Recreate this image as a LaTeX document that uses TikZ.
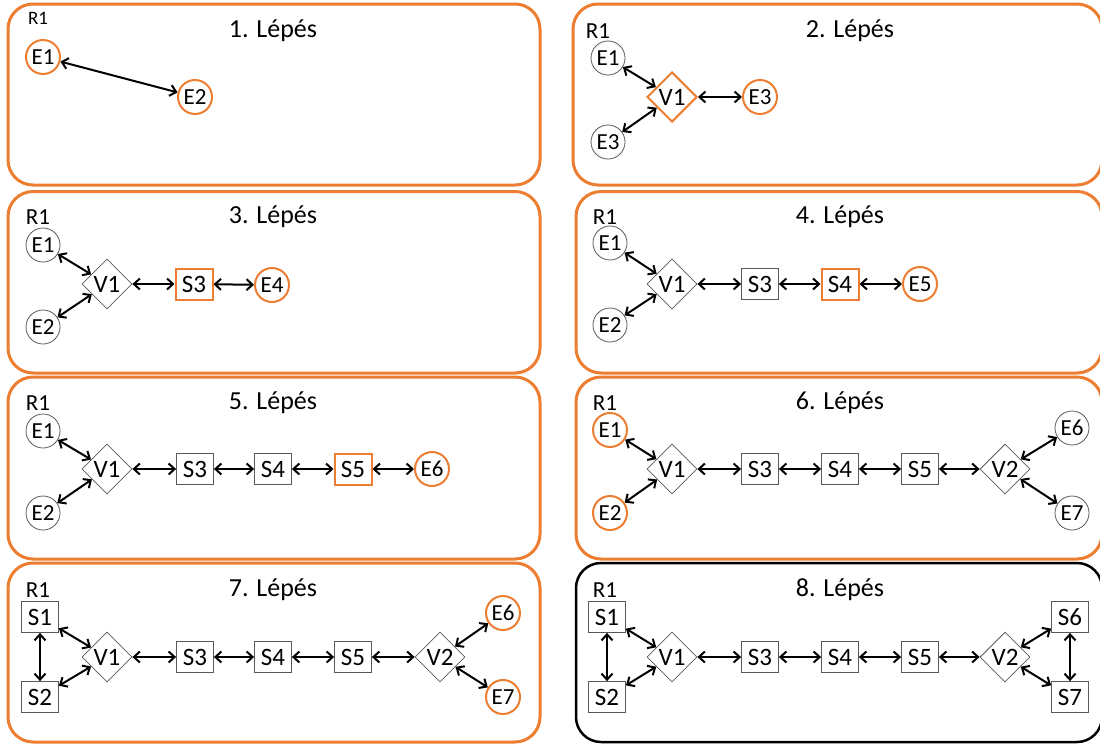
\documentclass[tikz,border=0pt]{standalone}
\usepackage{fontspec}
\setmainfont{Carlito}
\usetikzlibrary{shapes.geometric,arrows.meta}
\definecolor{accent}{HTML}{ED7D31}
\definecolor{nodegray}{HTML}{595959}

\tikzset{
  panel/.style={draw=accent, line width=3pt, rounded corners=25pt},
  panelfinal/.style={draw=black, line width=2.5pt, rounded corners=25pt},
  title/.style={font=\fontsize{26}{30}\selectfont},
  rlabel/.style={font=\fontsize{23}{26}\selectfont},
  rsmall/.style={font=\fontsize{19}{22}\selectfont},
  ent/.style={circle, draw=nodegray, line width=0.8pt, minimum size=34pt, inner sep=0pt,
    font=\fontsize{23}{26}\selectfont},
  sys/.style={rectangle, draw=nodegray, line width=0.8pt, minimum width=37pt, minimum height=31pt,
    inner sep=0pt, font=\fontsize{25}{28}\selectfont},
  junc/.style={diamond, draw=nodegray, line width=0.8pt, minimum width=50pt, minimum height=50pt,
    inner sep=0pt, font=\fontsize{25}{28}\selectfont},
  new/.style={draw=accent, line width=2pt},
  link/.style={{Straight Barb[length=6pt,width=11pt]}-{Straight Barb[length=6pt,width=11pt]},
    line width=2pt},
}

\begin{document}
\begin{tikzpicture}[x=1pt,y=-1pt]
\useasboundingbox (0,0) rectangle (1100,744);
\clip (0,0) rectangle (1100,744);

% ---- frames ----
\draw[panel] (8,4) rectangle (540,185);
\draw[panel] (573,4) rectangle (1102,185);
\draw[panel] (8,191.5) rectangle (540,373);
\draw[panel] (576,191.5) rectangle (1102,373);
\draw[panel] (8,377) rectangle (540,559);
\draw[panel] (576,377) rectangle (1102,559);
\draw[panel] (8,563) rectangle (540,742);
\draw[panelfinal] (576,563) rectangle (1102,742);

% ---- step 1 ----
\node[title] (t1) at (273,31) {1. Lépés};
\node[rsmall] (r1a) at (38,18) {R1};
\node[ent,new] (a1) at (43,57) {E1};
\node[ent,new] (a2) at (195,97) {E2};
\draw[link] (a1) -- (a2);

% ---- step 2 ----
\node[title] (t2) at (850,31) {2. Lépés};
\node[rlabel] (r1b) at (598,31) {R1};
\node[ent] (b1) at (608,58) {E1};
\node[ent] (b2) at (608,142) {E3};
\node[junc,new] (bv1) at (672,97) {V1};
\node[ent,new] (b3) at (760,97) {E3};
\draw[link] (b1) -- (bv1);
\draw[link] (b2) -- (bv1);
\draw[link] (bv1) -- (b3);

% ---- step 3 ----
\node[title] (t3) at (273,217) {3. Lépés};
\node[rlabel] (r1c) at (38,217) {R1};
\node[ent] (c1) at (43,245) {E1};
\node[ent] (c2) at (43,327) {E2};
\node[junc] (cv1) at (107,284) {V1};
\node[sys,new] (cs3) at (194,284) {S3};
\node[ent,new] (c4) at (272,285) {E4};
\draw[link] (c1) -- (cv1);
\draw[link] (c2) -- (cv1);
\draw[link] (cv1) -- (cs3);
\draw[link] (cs3) -- (c4);

% ---- step 4 ----
\node[title] (t4) at (840,217) {4. Lépés};
\node[rlabel] (r1d) at (605,217) {R1};
\node[ent] (d1) at (610,243) {E1};
\node[ent] (d2) at (610,325) {E2};
\node[junc] (dv1) at (672,284) {V1};
\node[sys] (ds3) at (760,284) {S3};
\node[sys,new] (ds4) at (840,284) {S4};
\node[ent,new] (d5) at (920,284) {E5};
\draw[link] (d1) -- (dv1);
\draw[link] (d2) -- (dv1);
\draw[link] (dv1) -- (ds3);
\draw[link] (ds3) -- (ds4);
\draw[link] (ds4) -- (d5);

% ---- step 5 ----
\node[title] (t5) at (273,403) {5. Lépés};
\node[rlabel] (r1e) at (38,403) {R1};
\node[ent] (e1) at (43,431) {E1};
\node[ent] (e2) at (43,513) {E2};
\node[junc] (ev1) at (107,469) {V1};
\node[sys] (es3) at (195,469) {S3};
\node[sys] (es4) at (273,469) {S4};
\node[sys,new] (es5) at (353,469) {S5};
\node[ent,new] (e6) at (432,469) {E6};
\draw[link] (e1) -- (ev1);
\draw[link] (e2) -- (ev1);
\draw[link] (ev1) -- (es3);
\draw[link] (es3) -- (es4);
\draw[link] (es4) -- (es5);
\draw[link] (es5) -- (e6);

% ---- step 6 ----
\node[title] (t6) at (840,403) {6. Lépés};
\node[rlabel] (r1f) at (605,403) {R1};
\node[ent,new] (f1) at (610,430) {E1};
\node[ent,new] (f2) at (610,513) {E2};
\node[junc] (fv1) at (672,469) {V1};
\node[sys] (fs3) at (760,469) {S3};
\node[sys] (fs4) at (840,469) {S4};
\node[sys] (fs5) at (920,469) {S5};
\node[junc] (fv2) at (1005,469) {V2};
\node[ent] (f6) at (1072,428) {E6};
\node[ent] (f7) at (1072,513) {E7};
\draw[link] (f1) -- (fv1);
\draw[link] (f2) -- (fv1);
\draw[link] (fv1) -- (fs3);
\draw[link] (fs3) -- (fs4);
\draw[link] (fs4) -- (fs5);
\draw[link] (fs5) -- (fv2);
\draw[link] (fv2) -- (f6);
\draw[link] (fv2) -- (f7);

% ---- step 7 ----
\node[title] (t7) at (273,590) {7. Lépés};
\node[rlabel] (r1g) at (38,590) {R1};
\node[sys] (gs1) at (40,617) {S1};
\node[sys] (gs2) at (40,697) {S2};
\node[junc] (gv1) at (107,657) {V1};
\node[sys] (gs3) at (195,657) {S3};
\node[sys] (gs4) at (273,657) {S4};
\node[sys] (gs5) at (353,657) {S5};
\node[junc] (gv2) at (440,657) {V2};
\node[ent,new] (g6) at (503,613) {E6};
\node[ent,new] (g7) at (503,697) {E7};
\draw[link] (gs1) -- (gs2);
\draw[link] (gs1) -- (gv1);
\draw[link] (gs2) -- (gv1);
\draw[link] (gv1) -- (gs3);
\draw[link] (gs3) -- (gs4);
\draw[link] (gs4) -- (gs5);
\draw[link] (gs5) -- (gv2);
\draw[link] (gv2) -- (g6);
\draw[link] (gv2) -- (g7);

% ---- step 8 ----
\node[title] (t8) at (840,590) {8. Lépés};
\node[rlabel] (r1h) at (605,590) {R1};
\node[sys] (hs1) at (607,617) {S1};
\node[sys] (hs2) at (607,697) {S2};
\node[junc] (hv1) at (672,657) {V1};
\node[sys] (hs3) at (760,657) {S3};
\node[sys] (hs4) at (840,657) {S4};
\node[sys] (hs5) at (920,657) {S5};
\node[junc] (hv2) at (1005,657) {V2};
\node[sys] (hs6) at (1070,617) {S6};
\node[sys] (hs7) at (1070,697) {S7};
\draw[link] (hs1) -- (hs2);
\draw[link] (hs1) -- (hv1);
\draw[link] (hs2) -- (hv1);
\draw[link] (hv1) -- (hs3);
\draw[link] (hs3) -- (hs4);
\draw[link] (hs4) -- (hs5);
\draw[link] (hs5) -- (hv2);
\draw[link] (hv2) -- (hs6);
\draw[link] (hv2) -- (hs7);
\draw[link] (hs6) -- (hs7);
\end{tikzpicture}
\end{document}
